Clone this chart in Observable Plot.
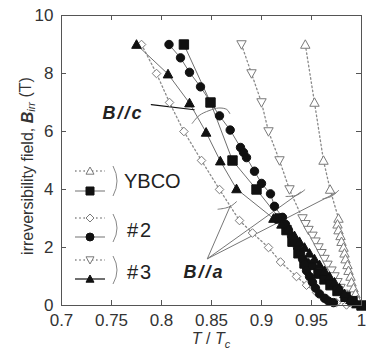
<!DOCTYPE html>
<html>
<head>
<meta charset="utf-8">
<script src="https://cdn.jsdelivr.net/npm/d3@7"></script>
<script src="https://cdn.jsdelivr.net/npm/@observablehq/plot@0.6"></script>
<style>
  body { margin: 0; background: #fff; }
  #chart svg { display: block; }
</style>
</head>
<body>
<div id="chart"></div>
<script>
// Irreversibility field B_irr (T) versus reduced temperature T/Tc,
// dotted/open = B//a, solid/filled = B//c.

// YBCO, B//a (open up-triangles)
const ybcoA_T = [0.9438, 0.953, 0.962, 0.9686, 0.977, 0.976, 0.977, 0.979, 0.980, 0.982, 0.983, 0.984, 0.986, 0.987, 0.989, 0.990, 0.992, 0.994, 0.996];
const ybcoA_B = [9.0, 7.0, 5.0, 4.0, 3.0, 2.8, 2.6, 2.4, 2.2, 2.0, 1.8, 1.6, 1.4, 1.2, 1.0, 0.8, 0.6, 0.4, 0.2];
// YBCO, B//c (filled squares)
const ybcoC_T = [0.8224, 0.849, 0.871, 0.895, 0.918, 0.925, 0.931, 0.937, 0.943, 0.950, 0.957, 0.963, 0.969, 0.976, 0.984, 0.991, 1.0];
const ybcoC_B = [9.0, 7.0, 5.0, 4.0, 3.0, 2.6, 2.2, 1.8, 1.45, 1.4, 1.1, 0.9, 0.7, 0.5, 0.3, 0.15, 0.0];
// #2, B//a (open diamonds)
const s2A_T = [0.780, 0.795, 0.808, 0.8224, 0.840, 0.858, 0.878, 0.891, 0.907, 0.919, 0.935, 0.945, 0.955, 0.965, 0.975, 0.985];
const s2A_B = [9.0, 8.0, 7.0, 6.0, 5.0, 4.0, 2.93, 2.5, 2.0, 1.5, 1.0, 0.7, 0.45, 0.25, 0.1, 0.02];
// #2, B//c (filled circles)
const s2C_T = [0.8075, 0.819, 0.828, 0.839, 0.858, 0.8687, 0.879, 0.882, 0.885, 0.893, 0.900, 0.909, 0.913, 0.921, 0.924, 0.927, 0.930, 0.933, 0.936, 0.939, 0.941, 0.943, 0.945, 0.948, 0.951, 0.954, 0.958, 0.963, 0.967, 0.972];
const s2C_B = [9.0, 8.54, 8.04, 7.54, 6.54, 6.05, 5.45, 5.28, 5.1, 4.63, 4.21, 3.85, 3.42, 3.04, 2.8, 2.6, 2.4, 2.2, 2.0, 1.8, 1.6, 1.4, 1.2, 1.0, 0.8, 0.6, 0.4, 0.25, 0.15, 0.1];
// #3, B//a (open down-triangles)
const s3A_T = [0.880, 0.890, 0.900, 0.907, 0.918, 0.928, 0.941, 0.944, 0.947, 0.951, 0.954, 0.957, 0.960, 0.963, 0.966, 0.970, 0.973, 0.976, 0.979, 0.982, 0.986];
const s3A_B = [9.0, 8.0, 7.0, 6.0, 5.0, 4.0, 3.0, 2.8, 2.6, 2.4, 2.2, 2.0, 1.8, 1.6, 1.4, 1.2, 1.0, 0.8, 0.6, 0.4, 0.2];
// #3, B//c (filled up-triangles)
const s3C_T = [0.775, 0.8065, 0.828, 0.8446, 0.8588, 0.875, 0.912, 0.920, 0.927, 0.933, 0.938, 0.943, 0.948, 0.953, 0.958, 0.963, 0.968, 0.973, 0.978, 0.983, 0.989, 0.995];
const s3C_B = [9.0, 7.98, 6.98, 5.97, 4.98, 4.02, 3.0, 2.8, 2.6, 2.4, 2.2, 2.0, 1.8, 1.6, 1.4, 1.2, 1.0, 0.8, 0.6, 0.4, 0.2, 0.05];

// Axis ticks
const xTicks = [0.7, 0.75, 0.8, 0.85, 0.9, 0.95, 1];
const xTickLabels = ["0.7", "0.75", "0.8", "0.85", "0.9", "0.95", "1"];
const yTicks = [0, 2, 4, 6, 8, 10];
const yTickLabels = ["0", "2", "4", "6", "8", "10"];

// Annotation guides (data coordinates)
const bcPointerT = [0.7898, 0.8327], bcPointerB = [6.93, 6.75];
const bcArcT = [0.8307, 0.8376, 0.8475, 0.8574, 0.8653, 0.8683], bcArcB = [6.28, 6.55, 6.72, 6.81, 6.76, 6.62];
const baApexT = 0.8458, baApexB = 1.61;
const baFanT = [0.869, 0.9396, 0.9743], baFanB = [3.45, 3.92, 3.88];
const baArc1T = [0.8565, 0.864, 0.870, 0.875], baArc1B = [3.32, 3.36, 3.44, 3.58];
const baArc2T = [0.9245, 0.935, 0.9433], baArc2B = [3.76, 3.80, 3.99];
const baArc3T = [0.9614, 0.9696, 0.9772], baArc3B = [3.68, 3.76, 3.97];
const labelBc = {T: 0.7614, B: 6.63, text: "B//c"};
const labelBa = {T: 0.8426, B: 1.14, text: "B//a"};

// Legend entries
const legendNames = ["YBCO", "#2", "#3"];

const rows = (T, B) => T.map((t, i) => ({T: t, B: B[i]}));

// Marker shapes; r is recovered from Plot's size = π r²
const rOf = size => Math.sqrt(size / Math.PI);
const symSquare = {draw(ctx, size) { const r = rOf(size); ctx.rect(-r, -r, 2 * r, 2 * r); }};
const symTriUp = {draw(ctx, size) { const r = rOf(size); ctx.moveTo(0, -1.0 * r); ctx.lineTo(r, 0.8 * r); ctx.lineTo(-r, 0.8 * r); ctx.closePath(); }};
const symTriDown = {draw(ctx, size) { const r = rOf(size); ctx.moveTo(0, 1.0 * r); ctx.lineTo(r, -0.8 * r); ctx.lineTo(-r, -0.8 * r); ctx.closePath(); }};
const symDiamond = {draw(ctx, size) { const r = rOf(size); ctx.moveTo(0, -r); ctx.lineTo(r, 0); ctx.lineTo(0, r); ctx.lineTo(-r, 0); ctx.closePath(); }};
const symCircle = {draw(ctx, size) { const r = rOf(size); ctx.moveTo(r, 0); ctx.arc(0, 0, r, 0, 2 * Math.PI); }};

const openStyle = {fill: "white", stroke: "#7a7a7a", strokeWidth: 1};
const filledStyle = {fill: "#111", stroke: "#111", strokeWidth: 1};
const dottedLine = {stroke: "#8a8a8a", strokeWidth: 1.3, strokeDasharray: "1.6,2.6"};
const solidLine = {stroke: "#6f6f6f", strokeWidth: 1};

const series = [
  {data: rows(ybcoA_T, ybcoA_B), open: true, symbol: symTriUp, r: 4.7},
  {data: rows(s2A_T, s2A_B), open: true, symbol: symDiamond, r: 4.3},
  {data: rows(s3A_T, s3A_B), open: true, symbol: symTriDown, r: 4.7},
  {data: rows(ybcoC_T, ybcoC_B), open: false, symbol: symSquare, r: 4.7},
  {data: rows(s2C_T, s2C_B), open: false, symbol: symCircle, r: 4.2},
  {data: rows(s3C_T, s3C_B), open: false, symbol: symTriUp, r: 4.8}
];

const lineMarks = series.map(s => Plot.line(s.data, {x: "T", y: "B", ...(s.open ? dottedLine : solidLine)}));
const dotMarks = series.map(s => Plot.dot(s.data, {x: "T", y: "B", symbol: s.symbol, r: s.r, ...(s.open ? openStyle : filledStyle)}));

const fanRows = baFanT.map((t, i) => ({T1: baApexT, B1: baApexB, T2: t, B2: baFanB[i]}));
const guide = {stroke: "#777", strokeWidth: 1};

const W = 366, H = 353;
const mL = 61, mR = 5, mT = 15, mB = 48;
const innerW = W - mL - mR, innerH = H - mT - mB;
const tickLen = 5;

const chart = Plot.plot({
  width: W,
  height: H,
  marginLeft: mL,
  marginRight: mR,
  marginTop: mT,
  marginBottom: mB,
  style: {fontFamily: "'Liberation Sans', Arial, sans-serif", fontSize: "17px", color: "#333", background: "white", overflow: "visible"},
  x: {domain: [0.7, 1], ticks: xTicks, tickFormat: d => xTickLabels[xTicks.indexOf(d)], tickSize: 0, tickPadding: 8, label: null},
  y: {domain: [0, 10], ticks: yTicks, tickFormat: d => yTickLabels[yTicks.indexOf(d)], tickSize: 0, tickPadding: 8, label: null},
  marks: [
    // inward ticks on all four sides
    Plot.tickX(xTicks, {x: d => d, insetTop: innerH - tickLen, stroke: "#555"}),
    Plot.tickX(xTicks, {x: d => d, insetBottom: innerH - tickLen, stroke: "#555"}),
    Plot.tickY(yTicks, {y: d => d, insetRight: innerW - tickLen, stroke: "#555"}),
    Plot.tickY(yTicks, {y: d => d, insetLeft: innerW - tickLen, stroke: "#555"}),
    ...lineMarks,
    // B//c pointer and bracket arc
    Plot.line(rows(bcPointerT, bcPointerB), {x: "T", y: "B", stroke: "#111", strokeWidth: 1.2}),
    Plot.line(rows(bcArcT, bcArcB), {x: "T", y: "B", curve: "catmull-rom", ...guide}),
    // B//a fan and bracket arcs
    Plot.link(fanRows, {x1: "T1", y1: "B1", x2: "T2", y2: "B2", ...guide}),
    Plot.line(rows(baArc1T, baArc1B), {x: "T", y: "B", curve: "catmull-rom", ...guide}),
    Plot.line(rows(baArc2T, baArc2B), {x: "T", y: "B", curve: "catmull-rom", ...guide}),
    Plot.line(rows(baArc3T, baArc3B), {x: "T", y: "B", curve: "catmull-rom", ...guide}),
    ...dotMarks,
    Plot.text([labelBc, labelBa], {x: "T", y: "B", text: "text", fontSize: 18, fontWeight: "bold", fontStyle: "italic", fill: "#222", textAnchor: "middle", lineAnchor: "middle"}),
    Plot.frame({stroke: "#555"})
  ]
});

document.getElementById("chart").appendChild(chart);

const svg = d3.select(chart);
svg.selectAll("text").filter(function () { return /\/\//.test(this.textContent); }).attr("letter-spacing", 2);

// Axis titles
const yTitle = svg.append("text")
  .attr("transform", "translate(27,166) rotate(-90)")
  .attr("text-anchor", "middle")
  .attr("dominant-baseline", "central")
  .attr("font-size", 16)
  .attr("fill", "#333");
yTitle.append("tspan").text("irreversibility field, ");
yTitle.append("tspan").attr("font-weight", "bold").attr("font-style", "italic").text("B");
yTitle.append("tspan").attr("font-size", 11).attr("font-style", "italic").attr("dy", "0.35em").text("irr");
yTitle.append("tspan").attr("dy", "-0.35em").text(" (T)");

const xTitle = svg.append("text")
  .attr("x", mL + innerW / 2)
  .attr("y", 344)
  .attr("text-anchor", "middle")
  .attr("font-size", 16)
  .attr("fill", "#333");
xTitle.append("tspan").attr("font-style", "italic").text("T");
xTitle.append("tspan").text(" / ");
xTitle.append("tspan").attr("font-style", "italic").text("T");
xTitle.append("tspan").attr("font-size", 11).attr("font-style", "italic").attr("dy", "0.35em").text("c");

// Legend: dotted/open sample (B//a) above solid/filled sample (B//c), bracket, sample name
const legendRows = [
  {open: series[0], filled: series[3], yOpen: 171, yFilled: 191, yText: 181, y0: 166, y1: 196, dark: false},
  {open: series[1], filled: series[4], yOpen: 218, yFilled: 237, yText: 230, y0: 214, y1: 242, dark: false},
  {open: series[2], filled: series[5], yOpen: 260, yFilled: 279, yText: 272, y0: 256, y1: 284, dark: true}
];
const lg = svg.append("g");
const lx0 = 75, lx1 = 105, lxm = 90;
legendRows.forEach((row, i) => {
  lg.append("line").attr("x1", lx0).attr("x2", lx1).attr("y1", row.yOpen).attr("y2", row.yOpen)
    .attr("stroke", dottedLine.stroke).attr("stroke-width", dottedLine.strokeWidth).attr("stroke-dasharray", dottedLine.strokeDasharray);
  lg.append("path").attr("transform", `translate(${lxm},${row.yOpen})`)
    .attr("d", d3.symbol(row.open.symbol, Math.PI * 4 * 4)())
    .attr("fill", openStyle.fill).attr("stroke", openStyle.stroke);
  lg.append("line").attr("x1", lx0).attr("x2", lx1).attr("y1", row.yFilled).attr("y2", row.yFilled)
    .attr("stroke", row.dark ? "#333" : "#9a9a9a").attr("stroke-width", 1.4);
  lg.append("path").attr("transform", `translate(${lxm},${row.yFilled})`)
    .attr("d", d3.symbol(row.filled.symbol, Math.PI * 4 * 4)())
    .attr("fill", filledStyle.fill).attr("stroke", filledStyle.stroke);
  lg.append("path")
    .attr("d", `M113,${row.y0} Q121,${(row.y0 + row.y1) / 2} 113,${row.y1}`)
    .attr("fill", "none").attr("stroke", "#888").attr("stroke-width", 1);
  lg.append("text").attr("x", i === 0 ? 124 : 127).attr("y", row.yText)
    .attr("text-anchor", "start")
    .attr("dominant-baseline", "central").attr("font-size", 20).attr("fill", "#222")
    .attr("letter-spacing", i === 0 ? 0 : 2)
    .text(legendNames[i]);
});
</script>
</body>
</html>
